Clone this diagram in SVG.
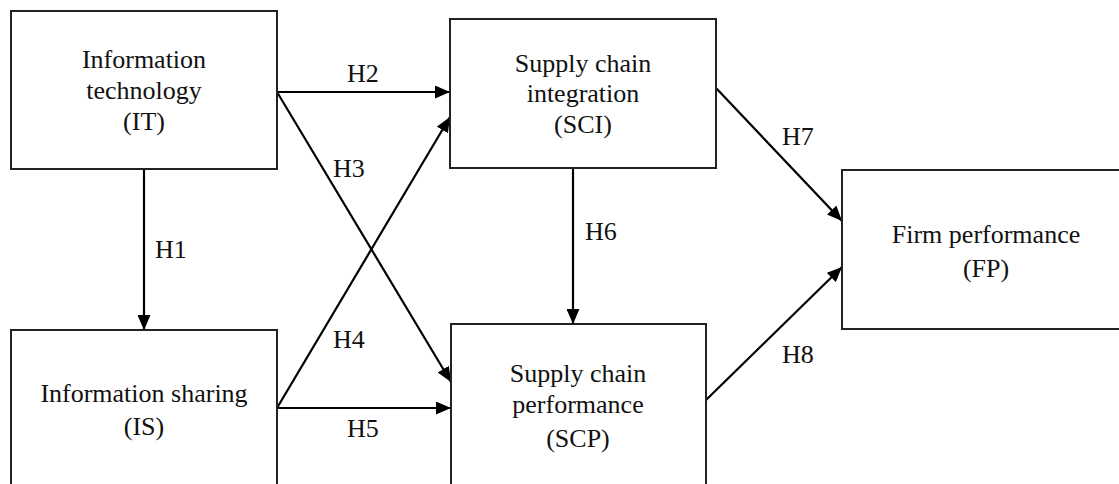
<svg xmlns="http://www.w3.org/2000/svg" width="1119" height="484" viewBox="0 0 1119 484">
<style>
.box{fill:#fff;stroke:#222;stroke-width:2}
.t{font-family:'Liberation Serif','DejaVu Serif',serif;font-size:26px;fill:#111;text-anchor:middle}
.lb{font-family:'Liberation Serif','DejaVu Serif',serif;font-size:26px;fill:#111}
.c{stroke:#000;stroke-width:2.2;fill:none;marker-end:url(#ah)}
</style>
<defs>
<marker id="ah" markerUnits="userSpaceOnUse" markerWidth="15" markerHeight="13" refX="15" refY="6.5" orient="auto">
<path d="M0,0 L15,6.5 L0,13 z" fill="#000"/>
</marker>
</defs>
<rect width="1119" height="484" fill="#fff"/>
<g id="connectors">
<line class="c" x1="144" y1="169" x2="144" y2="330"/>
<line class="c" x1="277" y1="92" x2="450" y2="92"/>
<line class="c" x1="277" y1="92" x2="451" y2="382"/>
<line class="c" x1="277" y1="408" x2="450" y2="117"/>
<line class="c" x1="277" y1="408" x2="451" y2="408"/>
<line class="c" x1="573" y1="168" x2="573" y2="324"/>
<line class="c" x1="716" y1="88" x2="842" y2="221"/>
<line class="c" x1="706" y1="400" x2="842" y2="267"/>
<text class="lb" font-family="Liberation Serif, serif" x="155" y="258">H1</text>
<text class="lb" font-family="Liberation Serif, serif" x="347" y="82">H2</text>
<text class="lb" font-family="Liberation Serif, serif" x="333" y="177">H3</text>
<text class="lb" font-family="Liberation Serif, serif" x="333" y="348">H4</text>
<text class="lb" font-family="Liberation Serif, serif" x="347" y="437">H5</text>
<text class="lb" font-family="Liberation Serif, serif" x="585" y="240">H6</text>
<text class="lb" font-family="Liberation Serif, serif" x="782" y="145">H7</text>
<text class="lb" font-family="Liberation Serif, serif" x="782" y="363">H8</text>
</g>
<g id="IT" font-family="Liberation Serif, serif">
<rect class="box" x="11" y="11" width="266" height="158"/>
<text class="t" x="144" y="68">Information</text>
<text class="t" x="144" y="99">technology</text>
<text class="t" x="144" y="130">(IT)</text>
</g>
<g id="SCI">
<rect class="box" x="450" y="19" width="266" height="149"/>
<text class="t" x="583" y="72">Supply chain</text>
<text class="t" x="583" y="102">integration</text>
<text class="t" x="583" y="133">(SCI)</text>
</g>
<g id="IS">
<rect class="box" x="11" y="330" width="266" height="170"/>
<text class="t" x="144" y="402">Information sharing</text>
<text class="t" x="144" y="435">(IS)</text>
</g>
<g id="SCP">
<rect class="box" x="451" y="324" width="255" height="176"/>
<text class="t" x="578" y="382">Supply chain</text>
<text class="t" x="578" y="413">performance</text>
<text class="t" x="578" y="447">(SCP)</text>
</g>
<g id="FP">
<rect class="box" x="842" y="170" width="290" height="159"/>
<text class="t" x="986" y="243">Firm performance</text>
<text class="t" x="986" y="277">(FP)</text>
</g>
</svg>
